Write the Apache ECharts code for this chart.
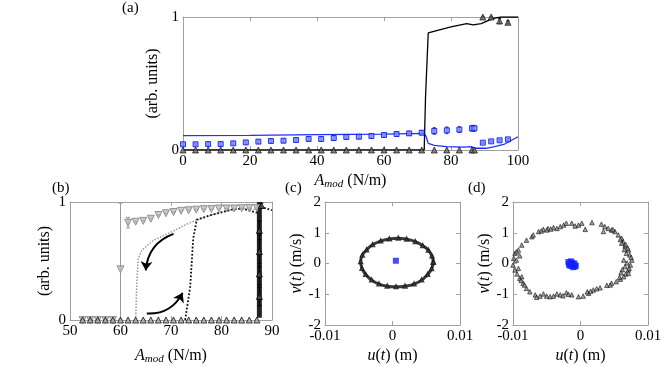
<!DOCTYPE html>
<html>
<head>
<meta charset="utf-8">
<script src="https://cdn.jsdelivr.net/npm/echarts@6.0.0/dist/echarts.min.js"></script>
<style>
  html, body { margin: 0; padding: 0; background: #fff; }
  #chart { width: 665px; height: 366px; }
</style>
</head>
<body>
<div id="chart"></div>
<script>
// ---- panel (a) ----
var aLowX = [0, 3.75, 7.5, 11.25, 15, 18.75, 22.5, 26.25, 30, 33.75, 37.5, 41.25, 45, 48.75, 52.5, 56.25, 60, 63.75, 67.5, 71.25, 75, 78.75, 82.5, 86.25, 87];
var aLowY = [0, 0, 0, 0, 0, 0, 0, 0, 0, 0, 0, 0, 0, 0, 0, 0, 0, 0, 0, 0, 0, 0, 0, 0, 0];
var aHighX = [89.5, 92, 94.5, 97];
var aHighY = [1.0, 1.0, 0.97, 0.96];
var aHighErr = [0, 0, 0.02, 0.012];
var aBlueX = [0, 3.75, 7.5, 11.25, 15, 18.75, 22.5, 26.25, 30, 33.75, 37.5, 41.25, 45, 48.75, 52.5, 56.25, 60, 63.75, 67.5, 71.25, 75, 78.75, 82.5, 86.25, 87, 89.5, 92, 94.5, 97];
var aBlueY = [0.043, 0.043, 0.045, 0.045, 0.05, 0.057, 0.063, 0.068, 0.07, 0.075, 0.083, 0.083, 0.09, 0.098, 0.1, 0.105, 0.113, 0.12, 0.125, 0.13, 0.143, 0.148, 0.153, 0.163, 0.163, 0.055, 0.065, 0.073, 0.08];
var aBlueErr = [0.008, 0.008, 0.01, 0.01, 0.012, 0.012, 0.013, 0.013, 0.013, 0.014, 0.015, 0.015, 0.015, 0.015, 0.015, 0.015, 0.015, 0.015, 0.015, 0.015, 0.025, 0.025, 0.022, 0.022, 0.022, 0.006, 0.006, 0.006, 0.006];
var aBlackLineX = [0, 72, 72.4, 73.2, 76, 80, 84.7, 86.6, 89, 92.6, 95, 100];
var aBlackLineY = [0, 0, 0.4, 0.88, 0.9, 0.925, 0.95, 0.94, 0.95, 0.99, 1.0, 1.0];
var aBlueLineX = [0, 20, 40, 60, 72, 72.6, 73.2, 75, 78.7, 84, 86, 87.5, 90.5, 93, 96, 100];
var aBlueLineY = [0.108, 0.11, 0.115, 0.12, 0.125, 0.1, 0.05, 0.035, 0.025, 0.022, 0.025, 0.013, 0.013, 0.025, 0.045, 0.1];

// ---- panel (b) ----
var bLowX = [52.5, 54, 55.5, 57, 58.5, 60, 61.5, 63, 64.5, 66, 67.5, 69, 70.5, 72, 73.5, 75, 76.5, 78, 79.5, 81, 82.5, 84, 85.5, 87];
var bLowY = [0, 0, 0, 0, 0, 0, 0, 0, 0, 0, 0, 0, 0, 0, 0, 0, 0, 0, 0, 0, 0, 0, 0, 0];
var bGrayX = [52.5, 54, 55.5, 57, 58.5, 60, 61.5, 63, 64.5, 66, 67.5, 69, 70.5, 72, 73.5, 75, 76.5, 78, 79.5, 81, 82.5, 84, 85.5, 87];
var bGrayY = [0, 0, 0, 0, 0, 0.43, 0.825, 0.833, 0.84, 0.858, 0.89, 0.905, 0.915, 0.925, 0.93, 0.935, 0.94, 0.94, 0.945, 0.945, 0.945, 0.948, 0.95, 0.95];
var bGrayLo = [0, 0, 0, 0, 0, 0.0, 0.78, 0.833, 0.84, 0.858, 0.89, 0.905, 0.915, 0.925, 0.93, 0.935, 0.94, 0.94, 0.945, 0.945, 0.945, 0.948, 0.95, 0.95];
var bGrayHi = [0, 0, 0, 0, 0, 0.99, 0.87, 0.833, 0.84, 0.858, 0.89, 0.905, 0.915, 0.925, 0.93, 0.935, 0.94, 0.94, 0.945, 0.945, 0.945, 0.948, 0.95, 0.95];
var bBarX = [87.5, 87.5, 87.5, 87.5, 87.9];
var bBarY = [0.2, 0.39, 0.58, 0.76, 0.97];
var bBarLo = [0.12, 0.3, 0.45, 0.68, 0.95];
var bBarHi = [0.28, 0.48, 0.72, 0.84, 0.99];
var bDownX = [63, 63.2, 63.5, 64.2, 66.5, 69.8, 73.5, 78, 82.3, 85, 88];
var bDownY = [0, 0.28, 0.52, 0.59, 0.675, 0.74, 0.82, 0.89, 0.94, 0.945, 0.93];
var bUpX = [72.8, 73.8, 74.4, 75.1, 78, 82, 84, 87, 88, 90];
var bUpY = [0, 0.28, 0.69, 0.85, 0.89, 0.935, 0.945, 0.91, 0.955, 0.93];
// curved arrows: start and end point of each
var bArrowDown = [[70.5, 0.73], [65.0, 0.42]];
var bArrowUp = [[65.2, 0.055], [72.3, 0.23]];

// ---- panel (c) ----
var cRingU = [0.00605, 0.00585, 0.00531, 0.00447, 0.00338, 0.0021, 0.00086, -0.00047, -0.00175, -0.00294, -0.00383, -0.00447, -0.00472, -0.00452, -0.00398, -0.00309, -0.002, -0.00077, 0.00052, 0.00185, 0.00319, 0.00432, 0.00521, 0.0058, 0.00605];
var cRingV = [0.04, 0.24, 0.43, 0.58, 0.71, 0.79, 0.82, 0.8, 0.73, 0.61, 0.44, 0.27, 0.06, -0.16, -0.36, -0.54, -0.67, -0.74, -0.76, -0.74, -0.67, -0.54, -0.36, -0.17, 0.04];
var cBlueU = [0.0005];
var cBlueV = [0.09];

// ---- panel (d) ----
var dU = [-0.0062, -0.0055, -0.0048, -0.004, -0.003, -0.0025, -0.0021, -0.0013, -0.0008, -0.0003, 0.0002, 0.0007, 0.0017, 0.0031, 0.0034, 0.0041, 0.0046, 0.0051, 0.0056, 0.0061, 0.0063, 0.0066, 0.0071, 0.0073, 0.0076, 0.0074, 0.0071, 0.0067, 0.0064, 0.0059, 0.0053, 0.0046, 0.0039, 0.0029, 0.0019, 0.0012, 0.0004, -0.0003, -0.0013, -0.0021, -0.003, -0.004, -0.005, -0.006, -0.0067, -0.0075, -0.008, -0.0085, -0.009, -0.0094, -0.0097, -0.01, -0.0099, -0.0097, -0.0092, -0.0087, -0.008, -0.0072,
  0.0068, 0.0064, 0.0066, 0.0071, 0.0059, 0.0061, -0.0095, -0.0092, -0.0087, -0.0095, -0.0055, -0.0045, -0.0035, -0.0065, 0.0024, 0.0044, -0.0035, -0.005, -0.007,
  0.007, 0.0065, 0.0075, 0.0069, 0.0062, 0.0072, 0.0058, 0.0067, 0.006, 0.001, 0.0015, -0.0018, -0.0026, -0.009, -0.0088, -0.0083, -0.0058, -0.0044, 0.0036, 0.0048];
var dV = [1.04, 1.11, 1.14, 1.17, 1.2, 1.25, 1.31, 1.31, 1.22, 1.25, 1.31, 1.11, 1.33, 1.28, 1.04, 1.14, 1.09, 1.04, 0.93, 0.82, 0.71, 0.57, 0.44, 0.28, 0.11, -0.05, -0.21, -0.34, -0.43, -0.51, -0.59, -0.64, -0.71, -0.79, -0.86, -0.97, -1.06, -1.08, -1.02, -0.95, -1.02, -1.06, -1.06, -1.06, -1.02, -0.92, -0.81, -0.64, -0.48, -0.34, -0.21, -0.05, 0.17, 0.33, 0.44, 0.6, 0.76, 0.87,
  0.33, 0.11, -0.1, -0.32, 0.78, 0.66, 0.11, -0.16, -0.43, 0.38, -0.99, -1.08, -0.99, -1.1, -0.82, -0.7, 1.14, 1.09, 0.93,
  0.5, 0.45, 0.2, 0.02, -0.2, -0.15, -0.45, 0.62, -0.3, -0.92, -0.9, -1.0, -1.05, 0.25, -0.55, -0.7, 1.06, 1.12, 1.2, 1.1];
var dBlueU = [-0.0018, -0.0016, -0.0014, -0.0012, -0.001, -0.0008, -0.0015, -0.0011, -0.0009, -0.0013, -0.0017, -0.0007];
var dBlueV = [0.05, -0.02, 0.07, 0.02, -0.05, -0.1, -0.08, -0.12, 0.0, -0.03, -0.04, -0.07];

var font = 'Liberation Serif';
var axisColor = '#a0a0a0';

function zip(xs, ys) {
  return xs.map(function (x, i) { return [x, ys[i]]; });
}
function zip3(xs, lo, hi) {
  return xs.map(function (x, i) { return [x, lo[i], hi[i]]; });
}

var titleStyle = {
  color: '#000', fontFamily: font, fontSize: 16,
  rich: {
    i: { fontStyle: 'italic', fontFamily: font, fontSize: 16, color: '#000' },
    s: { fontStyle: 'italic', fontFamily: font, fontSize: 11, color: '#000', padding: [7, 0, 0, 0] }
  }
};

function xAxes(gi, min, max, interval, name, gap) {
  var common = {
    gridIndex: gi, type: 'value', min: min, max: max, interval: interval,
    axisLine: { onZero: false, lineStyle: { color: axisColor } },
    axisTick: { inside: true, length: 4, lineStyle: { color: axisColor } },
    splitLine: { show: false }
  };
  return [
    Object.assign({}, common, {
      position: 'bottom', name: name, nameLocation: 'middle', nameGap: gap, nameTextStyle: titleStyle,
      axisLabel: { color: '#000', fontFamily: font, fontSize: 15, margin: 4 }
    }),
    Object.assign({}, common, { position: 'top', axisLabel: { show: false } })
  ];
}
function yAxes(gi, min, max, interval, name, gap) {
  var common = {
    gridIndex: gi, type: 'value', min: min, max: max, interval: interval,
    axisLine: { onZero: false, lineStyle: { color: axisColor } },
    axisTick: { inside: true, length: 4, lineStyle: { color: axisColor } },
    splitLine: { show: false }
  };
  return [
    Object.assign({}, common, {
      position: 'left', name: name, nameLocation: 'middle', nameGap: gap, nameTextStyle: titleStyle,
      axisLabel: { color: '#000', fontFamily: font, fontSize: 15, margin: 4 }
    }),
    Object.assign({}, common, { position: 'right', axisLabel: { show: false } })
  ];
}

function errorBars(xi, data, color, cap) {
  return {
    type: 'custom', xAxisIndex: xi, yAxisIndex: xi, clip: false,
    data: data, encode: { x: 0, y: [1, 2] }, z: 3,
    renderItem: function (params, api) {
      var p1 = api.coord([api.value(0), api.value(1)]);
      var p2 = api.coord([api.value(0), api.value(2)]);
      var st = { stroke: color, lineWidth: 1 };
      return {
        type: 'group', children: [
          { type: 'line', shape: { x1: p1[0], y1: p1[1], x2: p2[0], y2: p2[1] }, style: st },
          { type: 'line', shape: { x1: p1[0] - cap, y1: p1[1], x2: p1[0] + cap, y2: p1[1] }, style: st },
          { type: 'line', shape: { x1: p2[0] - cap, y1: p2[1], x2: p2[0] + cap, y2: p2[1] }, style: st }
        ]
      };
    }
  };
}

var aBlueLo = aBlueY.map(function (v, i) { return v - aBlueErr[i]; });
var aBlueHi = aBlueY.map(function (v, i) { return v + aBlueErr[i]; });
var aHighLo = aHighY.map(function (v, i) { return v - aHighErr[i]; });
var aHighHi = aHighY.map(function (v, i) { return v + aHighErr[i]; });

var chart = echarts.init(document.getElementById('chart'));
var ampName = '{i|A}{s|mod} (N/m)';

var option = {
  backgroundColor: '#fff',
  animation: false,
  grid: [
    { left: 183, top: 17, width: 335, height: 133 },
    { left: 70, top: 202, width: 202, height: 122 },
    { left: 325, top: 202, width: 135, height: 123 },
    { left: 513, top: 202, width: 135, height: 123 }
  ],
  xAxis: [].concat(
    xAxes(0, 0, 100, 20, ampName, 22),
    xAxes(1, 50, 90, 10, ampName, 27),
    xAxes(2, -0.01, 0.01, 0.01, '{i|u}({i|t}) (m)', 23),
    xAxes(3, -0.01, 0.01, 0.01, '{i|u}({i|t}) (m)', 23)
  ),
  yAxis: [].concat(
    yAxes(0, 0, 1, 1, '(arb. units)', 13),
    yAxes(1, 0, 1, 1, '(arb. units)', 17),
    yAxes(2, -2, 2, 1, '{i|v}({i|t}) (m/s)', 15),
    yAxes(3, -2, 2, 1, '{i|v}({i|t}) (m/s)', 15)
  ),
  graphic: [
    { type: 'text', left: 122, top: 1, style: { text: '(a)', font: '15px "Liberation Serif"', fill: '#000' } },
    { type: 'text', left: 52, top: 181, style: { text: '(b)', font: '15px "Liberation Serif"', fill: '#000' } },
    { type: 'text', left: 285, top: 181, style: { text: '(c)', font: '15px "Liberation Serif"', fill: '#000' } },
    { type: 'text', left: 468, top: 181, style: { text: '(d)', font: '15px "Liberation Serif"', fill: '#000' } }
  ],
  series: [
    // (a)
    { type: 'line', xAxisIndex: 0, yAxisIndex: 0, data: zip(aBlueLineX, aBlueLineY), symbol: 'none',
      lineStyle: { color: '#1f2fff', width: 1.3 }, z: 2 },
    { type: 'line', xAxisIndex: 0, yAxisIndex: 0, data: zip(aBlackLineX, aBlackLineY), symbol: 'none',
      lineStyle: { color: '#000', width: 1.3 }, z: 2 },
    errorBars(0, zip3(aBlueX, aBlueLo, aBlueHi), '#1f2fff', 1.5),
    errorBars(0, zip3(aHighX, aHighLo, aHighHi), '#000', 1.5),
    { type: 'scatter', xAxisIndex: 0, yAxisIndex: 0, data: zip(aBlueX, aBlueY), symbol: 'rect', symbolSize: 5, clip: false,
      itemStyle: { color: '#8090ff', borderColor: '#0010ee', borderWidth: 1 }, z: 4 },
    { type: 'scatter', xAxisIndex: 0, yAxisIndex: 0, data: zip(aLowX, aLowY), symbol: 'triangle', symbolSize: 6, clip: false,
      itemStyle: { color: '#666', borderColor: '#000', borderWidth: 0.8 }, z: 4 },
    { type: 'scatter', xAxisIndex: 0, yAxisIndex: 0, data: zip(aHighX, aHighY), symbol: 'triangle', symbolSize: 6, clip: false,
      itemStyle: { color: '#666', borderColor: '#000', borderWidth: 0.8 }, z: 4 },

    // (b)
    errorBars(2, zip3(bGrayX, bGrayLo, bGrayHi), '#999', 2),
    { type: 'line', xAxisIndex: 2, yAxisIndex: 2, data: zip(bDownX, bDownY), symbol: 'none',
      lineStyle: { color: '#999', width: 1.5, type: 'dotted' }, z: 2 },
    { type: 'line', xAxisIndex: 2, yAxisIndex: 2, data: zip(bUpX, bUpY), symbol: 'none',
      lineStyle: { color: '#111', width: 1.8, type: 'dotted' }, z: 2 },
    { type: 'line', xAxisIndex: 2, yAxisIndex: 2, data: [[87.5, 0.02], [87.5, 1.0]], symbol: 'none',
      lineStyle: { color: '#222', width: 5 }, z: 2 },
    errorBars(2, zip3(bBarX, bBarLo, bBarHi), '#000', 2),
    { type: 'scatter', xAxisIndex: 2, yAxisIndex: 2, data: zip(bGrayX, bGrayY), symbol: 'triangle', symbolRotate: 180,
      symbolSize: 7, clip: false, itemStyle: { color: '#bdbdbd', borderColor: '#808080', borderWidth: 1 }, z: 4 },
    { type: 'scatter', xAxisIndex: 2, yAxisIndex: 2, data: zip(bLowX, bLowY), symbol: 'triangle', symbolSize: 6, clip: false,
      itemStyle: { color: '#aaa', borderColor: '#111', borderWidth: 1 }, z: 5 },
    { type: 'scatter', xAxisIndex: 2, yAxisIndex: 2, data: zip(bBarX, bBarY), symbol: 'triangle', symbolSize: 6, clip: false,
      itemStyle: { color: '#555', borderColor: '#000', borderWidth: 1 }, z: 5 },
    { type: 'lines', coordinateSystem: 'cartesian2d', xAxisIndex: 2, yAxisIndex: 2,
      symbol: ['none', 'arrow'], symbolSize: 9,
      lineStyle: { color: '#000', width: 2, opacity: 1, curveness: -0.32 },
      data: [{ coords: bArrowDown }, { coords: bArrowUp }], z: 6 },

    // (c)
    { type: 'line', xAxisIndex: 4, yAxisIndex: 4, data: zip(cRingU, cRingV), smooth: true, symbol: 'none',
      lineStyle: { color: '#3a3a3a', width: 3 }, z: 2 },
    { type: 'scatter', xAxisIndex: 4, yAxisIndex: 4, data: zip(cRingU, cRingV), symbol: 'emptyTriangle', symbolSize: 3,
      itemStyle: { color: '#111' }, z: 3 },
    { type: 'scatter', xAxisIndex: 4, yAxisIndex: 4, data: zip(cBlueU, cBlueV), symbol: 'rect', symbolSize: 6,
      itemStyle: { color: '#1020ff' }, z: 4 },

    // (d)
    { type: 'scatter', xAxisIndex: 6, yAxisIndex: 6, data: zip(dU, dV), symbol: 'triangle', symbolSize: 4.5,
      itemStyle: { color: '#8a8a8a', borderColor: '#000', borderWidth: 0.7 }, z: 3 },
    { type: 'scatter', xAxisIndex: 6, yAxisIndex: 6, data: zip(dBlueU, dBlueV), symbol: 'rect', symbolSize: 6,
      itemStyle: { color: '#1020ff' }, z: 4 }
  ]
};

chart.setOption(option);
</script>
</body>
</html>
